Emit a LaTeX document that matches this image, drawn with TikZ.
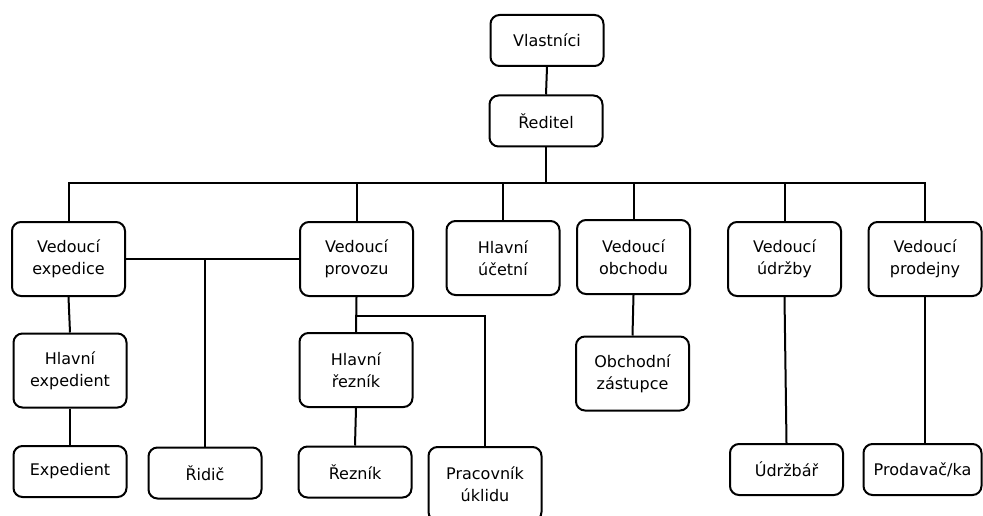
\documentclass[tikz,border=0pt]{standalone}
\usepackage{fontspec}
\newfontfamily\dejavu{DejaVu Sans}
\begin{document}
\begin{tikzpicture}[x=1pt,y=-1pt,
  box/.style={draw, line width=2pt, rounded corners=9pt, minimum width=113pt, align=center,
    font=\fontsize{16}{22}\selectfont\dejavu, inner sep=0pt, fill=white},
  one/.style={box, minimum height=51pt},
  two/.style={box, minimum height=74pt},
  conn/.style={line width=2pt}]
\fill[white] (0,0) rectangle (983,516);
\useasboundingbox (0,0) rectangle (983,516);
% nodes
\node[one] (vl) at (547,40.5) {Vlastníci};
\node[one] (re) at (546,121) {Ředitel};
\node[two] (ve) at (68.5,259) {Vedoucí\\expedice};
\node[two] (vp) at (356.5,259) {Vedoucí\\provozu};
\node[two] (hu) at (503,258) {Hlavní\\účetní};
\node[two] (vo) at (633.5,257) {Vedoucí\\obchodu};
\node[two] (vu) at (784.5,259) {Vedoucí\\údržby};
\node[two] (vpr) at (925,259) {Vedoucí\\prodejny};
\node[two] (he) at (70,370.5) {Hlavní\\expedient};
\node[one] (ex) at (70,471.5) {Expedient};
\node[one] (ri) at (205,473) {Řidič};
\node[two] (hr) at (356,370) {Hlavní\\řezník};
\node[one] (rz) at (355,472) {Řezník};
\node[two] (pu) at (485,484) {Pracovník\\úklidu};
\node[two] (oz) at (632.5,373.5) {Obchodní\\zástupce};
\node[one] (ud) at (786.5,469.5) {Údržbář};
\node[one, minimum width=118pt] (pd) at (922.5,469.5) {Prodavač/ka};
% connectors
\coordinate (bus) at (546,183);
\coordinate (br) at (356.5,316);
\begin{scope}[conn]
\draw (vl.south) -- (re.north);
\draw (re.south) -- (bus);
\draw (ve.north) -- (ve.north |- bus) -- (vpr.north |- bus) -- (vpr.north);
\draw (vp.north |- bus) -- (vp.north);
\draw (hu.north |- bus) -- (hu.north);
\draw (vo.north |- bus) -- (vo.north);
\draw (vu.north |- bus) -- (vu.north);
\draw (ve.east) -- (vp.west);
\draw (ri.north |- ve.east) -- (ri.north);
\draw (ve.south) -- (he.north);
\draw (he.south) -- (ex.north);
\draw (vp.south) -- (hr.north);
\draw (hr.south) -- (rz.north);
\draw (br) -- (pu.north |- br) -- (pu.north);
\draw (vo.south) -- (oz.north);
\draw (vu.south) -- (ud.north);
\draw (vpr.south) -- (vpr.south |- pd.north);
\end{scope}
\end{tikzpicture}
\end{document}
